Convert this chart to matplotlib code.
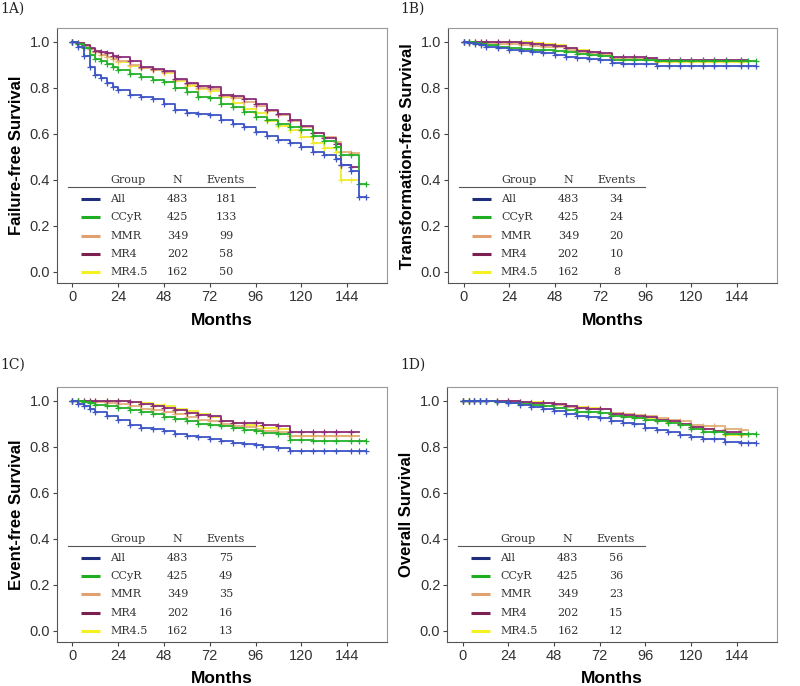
import numpy as np
from matplotlib import pyplot as plt

nan = np.nan

# legend table
groups = ["All", "CCyR", "MMR", "MR4", "MR4.5"]
n_pts = [483, 425, 349, 202, 162]
events_ffs = [181, 133, 99, 58, 50]
events_tfs = [34, 24, 20, 10, 8]
events_efs = [75, 49, 35, 16, 13]
events_os = [56, 36, 23, 15, 12]

# 1A failure-free survival
t_ffs = [0, 3, 6, 9, 12, 15, 18, 21, 24, 30, 36, 42, 48, 54, 60, 66, 72, 78, 84,
         90, 96, 102, 108, 114, 120, 126, 132, 138, 141, 146, 150, 154]
ffs_all = [1.0, 0.98, 0.94, 0.89, 0.855, 0.845, 0.82, 0.805, 0.79, 0.77, 0.76, 0.75,
           0.732, 0.705, 0.692, 0.688, 0.683, 0.662, 0.645, 0.628, 0.608, 0.59, 0.575,
           0.56, 0.542, 0.522, 0.507, 0.49, 0.465, 0.44, 0.326, 0.326]
ffs_ccyr = [1.0, 0.99, 0.975, 0.945, 0.925, 0.915, 0.905, 0.89, 0.88, 0.86, 0.848, 0.835,
            0.825, 0.80, 0.78, 0.76, 0.755, 0.73, 0.715, 0.695, 0.675, 0.66, 0.645,
            0.63, 0.615, 0.59, 0.57, 0.545, 0.506, 0.506, 0.384, 0.384]
ffs_mmr = [1.0, 0.995, 0.98, 0.968, 0.955, 0.945, 0.935, 0.925, 0.915, 0.9, 0.885, 0.878,
           0.87, 0.835, 0.815, 0.80, 0.795, 0.765, 0.755, 0.74, 0.72, 0.70, 0.68,
           0.655, 0.63, 0.605, 0.585, 0.565, 0.52, 0.515, nan, nan]
ffs_mr4 = [1.0, 0.995, 0.985, 0.975, 0.962, 0.955, 0.95, 0.94, 0.935, 0.915, 0.89, 0.882,
           0.875, 0.84, 0.82, 0.808, 0.806, 0.77, 0.765, 0.75, 0.73, 0.705, 0.685,
           0.66, 0.635, 0.605, 0.58, 0.555, 0.465, 0.458, nan, nan]
ffs_mr45 = [1.0, 0.995, 0.985, 0.97, 0.955, 0.945, 0.935, 0.925, 0.912, 0.895, 0.885, 0.878,
            0.865, 0.83, 0.81, 0.795, 0.788, 0.76, 0.735, 0.71, 0.69, 0.655, 0.635,
            0.615, 0.585, 0.56, 0.54, 0.52, 0.40, 0.40, nan, nan]

# 1B transformation-free survival
t_tfs = [0, 3, 6, 9, 12, 18, 24, 30, 36, 42, 48, 54, 60, 66, 72, 78, 84, 90, 96,
         102, 108, 114, 120, 126, 132, 138, 146, 150, 154]
tfs_all = [1.0, 0.995, 0.99, 0.985, 0.978, 0.972, 0.967, 0.962, 0.957, 0.95, 0.942, 0.935,
           0.928, 0.925, 0.92, 0.908, 0.906, 0.906, 0.903, 0.896, 0.896, 0.896, 0.896,
           0.896, 0.896, 0.896, 0.896, 0.896, 0.896]
tfs_ccyr = [1.0, 0.998, 0.994, 0.99, 0.986, 0.98, 0.975, 0.97, 0.967, 0.964, 0.96, 0.955,
            0.949, 0.943, 0.938, 0.923, 0.922, 0.922, 0.92, 0.916, 0.916, 0.916, 0.916,
            0.916, 0.916, 0.916, 0.916, 0.916, 0.916]
tfs_mmr = [1.0, 1.0, 0.998, 0.997, 0.995, 0.993, 0.99, 0.987, 0.983, 0.98, 0.977, 0.965,
           0.957, 0.95, 0.942, 0.928, 0.927, 0.926, 0.925, 0.918, 0.918, 0.918, 0.918,
           0.918, 0.918, 0.918, 0.918, nan, nan]
tfs_mr4 = [1.0, 1.0, 1.0, 1.0, 1.0, 1.0, 1.0, 0.997, 0.99, 0.988, 0.983, 0.972,
           0.962, 0.955, 0.95, 0.935, 0.935, 0.935, 0.932, 0.922, 0.922, 0.922, 0.922,
           0.922, 0.922, 0.922, 0.922, nan, nan]
tfs_mr45 = [1.0, 1.0, 1.0, 1.0, 1.0, 1.0, 1.0, 1.0, 0.995, 0.993, 0.988, 0.975,
            0.965, 0.955, 0.948, 0.928, 0.926, 0.924, 0.922, 0.912, 0.912, 0.912, 0.912,
            0.912, 0.912, 0.912, 0.912, nan, nan]

# 1C event-free survival
t_efs = [0, 3, 6, 9, 12, 18, 24, 30, 36, 42, 48, 54, 60, 66, 72, 78, 84, 90, 96,
         100, 108, 114, 120, 126, 132, 138, 146, 150, 154]
efs_all = [1.0, 0.985, 0.975, 0.962, 0.952, 0.932, 0.915, 0.895, 0.882, 0.875, 0.868, 0.857,
           0.846, 0.84, 0.835, 0.825, 0.815, 0.813, 0.808, 0.797, 0.795, 0.782, 0.782,
           0.782, 0.782, 0.782, 0.782, 0.782, 0.782]
efs_ccyr = [1.0, 0.997, 0.993, 0.988, 0.983, 0.975, 0.968, 0.96, 0.95, 0.94, 0.93, 0.92,
            0.91, 0.9, 0.893, 0.888, 0.88, 0.873, 0.867, 0.86, 0.853, 0.83, 0.828,
            0.826, 0.826, 0.826, 0.826, 0.826, 0.826]
efs_mmr = [1.0, 1.0, 0.998, 0.996, 0.993, 0.99, 0.985, 0.975, 0.965, 0.958, 0.95, 0.94,
           0.93, 0.918, 0.913, 0.9, 0.89, 0.885, 0.878, 0.87, 0.865, 0.848, 0.848,
           0.848, 0.848, 0.848, 0.848, nan, nan]
efs_mr4 = [1.0, 1.0, 1.0, 1.0, 1.0, 1.0, 1.0, 0.993, 0.985, 0.978, 0.97, 0.96,
           0.948, 0.938, 0.933, 0.91, 0.905, 0.905, 0.902, 0.895, 0.888, 0.862, 0.862,
           0.862, 0.862, 0.862, 0.862, nan, nan]
efs_mr45 = [1.0, 1.0, 1.0, 1.0, 1.0, 1.0, 1.0, 0.995, 0.99, 0.983, 0.975, 0.965,
            0.955, 0.94, 0.93, 0.91, 0.905, 0.895, 0.888, 0.882, 0.875, 0.845, 0.845,
            0.845, 0.845, 0.845, 0.845, nan, nan]

# 1D overall survival
t_os = [0, 3, 6, 9, 12, 18, 24, 30, 36, 42, 48, 54, 60, 66, 72, 78, 84, 90, 96,
        102, 108, 114, 120, 126, 132, 138, 146, 150, 154]
os_all = [1.0, 1.0, 0.999, 0.998, 0.997, 0.993, 0.988, 0.98, 0.972, 0.963, 0.955, 0.94,
          0.932, 0.928, 0.926, 0.91, 0.903, 0.898, 0.883, 0.872, 0.865, 0.852, 0.84,
          0.834, 0.832, 0.82, 0.818, 0.818, 0.818]
os_ccyr = [1.0, 1.0, 1.0, 0.999, 0.998, 0.995, 0.992, 0.987, 0.982, 0.975, 0.968, 0.958,
           0.952, 0.95, 0.948, 0.935, 0.93, 0.925, 0.918, 0.91, 0.903, 0.895, 0.878,
           0.865, 0.862, 0.857, 0.853, 0.853, 0.853]
os_mmr = [1.0, 1.0, 1.0, 1.0, 0.999, 0.998, 0.997, 0.995, 0.99, 0.988, 0.983, 0.972,
          0.967, 0.965, 0.962, 0.945, 0.942, 0.938, 0.933, 0.925, 0.918, 0.91, 0.895,
          0.89, 0.888, 0.878, 0.872, nan, nan]
os_mr4 = [1.0, 1.0, 1.0, 1.0, 1.0, 0.999, 0.997, 0.995, 0.992, 0.99, 0.985, 0.975,
          0.968, 0.965, 0.963, 0.942, 0.938, 0.932, 0.927, 0.915, 0.912, 0.9, 0.885,
          0.875, 0.87, 0.862, 0.857, nan, nan]
os_mr45 = [1.0, 1.0, 1.0, 1.0, 1.0, 0.999, 0.998, 0.996, 0.993, 0.99, 0.987, 0.977,
           0.972, 0.968, 0.963, 0.94, 0.935, 0.93, 0.925, 0.915, 0.908, 0.9, 0.885,
           0.875, 0.868, 0.85, 0.85, nan, nan]

line_colors = ["#3d55c5", "#25b02b", "#e2b07a", "#8b2c78", "#f0ea30"]
key_colors = ["#1f2d7a", "#1fae22", "#e0a070", "#7a1f4f", "#f5f020"]
x_ticks = [0, 24, 48, 72, 96, 120, 144]
y_ticks = [0.0, 0.2, 0.4, 0.6, 0.8, 1.0]

plt.rcParams['font.family'] = ['Liberation Sans', 'DejaVu Sans']


def draw_panel(ax, t, curves, events, ylabel):
    # draw the overall curve last so it sits on top
    for i in [4, 2, 3, 1, 0]:
        ax.plot(t, curves[i], drawstyle='steps-post', color=line_colors[i], lw=1.3)
        ax.plot(t, curves[i], ls='none', marker='+', ms=5, mew=0.9, color=line_colors[i])

    ax.set_xlim(-8.2, 165)
    ax.set_ylim(-0.05, 1.06)
    ax.set_xticks(x_ticks)
    ax.set_yticks(y_ticks)
    ax.set_yticklabels([f"{v:.1f}" for v in y_ticks])
    ax.tick_params(length=3, width=0.8, color='#444444', labelsize=10.5,
                   labelcolor='#333333', pad=2)
    for side in ['left', 'bottom']:
        ax.spines[side].set_color('#555555')
    for side in ['top', 'right']:
        ax.spines[side].set_color('#999999')
    ax.set_ylabel(ylabel, fontsize=12, fontweight='bold')
    ax.set_xlabel("Months", fontsize=12.5, fontweight='bold')
    ax.yaxis.set_label_coords(-0.1, 0.5)
    ax.xaxis.set_label_coords(0.5, -0.115)

    # legend table
    tr = ax.transAxes
    serif = dict(transform=tr, family='DejaVu Serif', fontsize=8, color='#333333', va='center')
    ax.plot([0.034, 0.6], [0.376, 0.376], transform=tr, color='#555555', lw=0.8)
    ax.text(0.161, 0.404, "Group", ha='left', **serif)
    ax.text(0.366, 0.404, "N", ha='center', **serif)
    ax.text(0.512, 0.404, "Events", ha='center', **serif)
    rows = [0.329, 0.258, 0.187, 0.115, 0.043]
    for i, g in enumerate(groups):
        y = rows[i]
        ax.plot([0.072, 0.13], [y, y], transform=tr, color=key_colors[i], lw=2.2,
                solid_capstyle='butt')
        ax.text(0.161, y, g, ha='left', **serif)
        ax.text(0.366, y, str(n_pts[i]), ha='center', **serif)
        ax.text(0.512, y, str(events[i]), ha='center', **serif)


fig = plt.figure(figsize=(8, 6.86), dpi=100)
ax_a = fig.add_axes([0.071, 0.587, 0.413, 0.372])
ax_b = fig.add_axes([0.560, 0.587, 0.411, 0.372])
ax_c = fig.add_axes([0.071, 0.064, 0.413, 0.372])
ax_d = fig.add_axes([0.559, 0.064, 0.412, 0.372])

draw_panel(ax_a, t_ffs, [ffs_all, ffs_ccyr, ffs_mmr, ffs_mr4, ffs_mr45], events_ffs,
           "Failure-free Survival")
draw_panel(ax_b, t_tfs, [tfs_all, tfs_ccyr, tfs_mmr, tfs_mr4, tfs_mr45], events_tfs,
           "Transformation-free Survival")
draw_panel(ax_c, t_efs, [efs_all, efs_ccyr, efs_mmr, efs_mr4, efs_mr45], events_efs,
           "Event-free Survival")
draw_panel(ax_d, t_os, [os_all, os_ccyr, os_mmr, os_mr4, os_mr45], events_os,
           "Overall Survival")

label_style = dict(family='DejaVu Serif', fontsize=10, color='#222222', va='center')
fig.text(0.0, 0.987, "1A)", **label_style)
fig.text(0.5, 0.987, "1B)", **label_style)
fig.text(0.0, 0.468, "1C)", **label_style)
fig.text(0.5, 0.468, "1D)", **label_style)

fig.savefig("out.png", dpi=100)
